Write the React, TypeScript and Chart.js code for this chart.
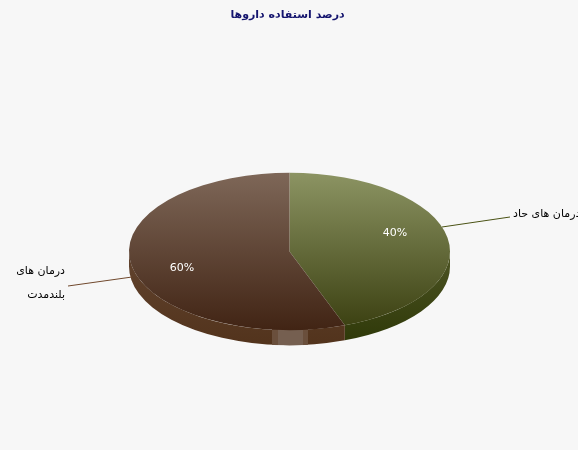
import React, { useEffect, useRef } from "react";
import { Chart, registerables } from "chart.js";

Chart.register(...registerables);

const titleText = "درصد استفاده داروها";
const categories = ["درمان های حاد", "درمان های بلندمدت"];
// label text printed on the chart
const percentLabels = ["40%", "60%"];
// slice sizes as drawn: the picture's 40% slice covers about 160 degrees
const sliceValues = [44.4, 55.6];

const SQUASH = 0.49;
const DEPTH = 15;

const squash = (ctx: CanvasRenderingContext2D, cy: number, offset = 0) => {
  ctx.translate(0, cy + offset);
  ctx.scale(1, SQUASH);
  ctx.translate(0, -cy);
};

// flatten the pie into an ellipse and draw the side wall under it
const pie3d = {
  id: "pie3d",
  beforeDatasetsDraw(chart: any) {
    const ctx = chart.ctx;
    const arcs = chart.getDatasetMeta(0).data;
    const { x, y, outerRadius } = arcs[0];

    const greenRim = ctx.createLinearGradient(0, 250, 0, 345);
    greenRim.addColorStop(0, "#4e5524");
    greenRim.addColorStop(1, "#2e3808");
    const brownRim = ctx.createLinearGradient(0, 250, 0, 345);
    brownRim.addColorStop(0, "#62442f");
    brownRim.addColorStop(1, "#52331c");
    const rims = [greenRim, brownRim];

    arcs.forEach((arc: any, i: number) => {
      // only the front half of the wall can be seen
      const from = Math.max(arc.startAngle, 0);
      const to = Math.min(arc.endAngle, Math.PI);
      ctx.beginPath();
      ctx.save();
      squash(ctx, y, DEPTH);
      ctx.arc(x, y, outerRadius, from, to);
      ctx.restore();
      ctx.save();
      squash(ctx, y);
      ctx.arc(x, y, outerRadius, to, from, true);
      ctx.restore();
      ctx.closePath();
      ctx.fillStyle = rims[i];
      ctx.fill();
    });

    // lighter strip on the front of the wall
    ctx.save();
    ctx.beginPath();
    ctx.save();
    squash(ctx, y, DEPTH);
    ctx.arc(x, y, outerRadius, 0, Math.PI * 2);
    ctx.restore();
    ctx.clip();
    const strip = ctx.createLinearGradient(272, 0, 308, 0);
    strip.addColorStop(0, "#6a4f3c");
    strip.addColorStop(0.16, "#6a4f3c");
    strip.addColorStop(0.17, "#755f50");
    strip.addColorStop(0.85, "#755f50");
    strip.addColorStop(0.86, "#6a4f3c");
    strip.addColorStop(1, "#6a4f3c");
    ctx.fillStyle = strip;
    ctx.fillRect(272, 320, 36, 30);
    ctx.restore();

    ctx.save();
    squash(ctx, y);
  },
  afterDatasetsDraw(chart: any) {
    const ctx = chart.ctx;
    ctx.restore();

    ctx.save();
    ctx.lineWidth = 1;
    ctx.strokeStyle = "#4a5214";
    ctx.beginPath();
    ctx.moveTo(442, 227);
    ctx.lineTo(510, 217);
    ctx.stroke();
    ctx.strokeStyle = "#70482c";
    ctx.beginPath();
    ctx.moveTo(132, 277);
    ctx.lineTo(68, 286);
    ctx.stroke();

    ctx.textBaseline = "middle";
    ctx.direction = "rtl";
    ctx.textAlign = "center";
    ctx.font = "bold 11px 'DejaVu Sans'";
    ctx.fillStyle = "#14146e";
    ctx.fillText(titleText, 287.5, 15);

    ctx.font = "11px 'DejaVu Sans'";
    ctx.fillStyle = "#000000";
    ctx.textAlign = "left";
    ctx.fillText(categories[0], 513, 214);
    ctx.textAlign = "right";
    const words = categories[1].split(" ");
    ctx.fillText(words.slice(0, 2).join(" "), 65, 271);
    ctx.fillText(words[2], 65, 295);

    ctx.direction = "ltr";
    ctx.textAlign = "center";
    ctx.fillStyle = "#ffffff";
    ctx.fillText(percentLabels[0], 395, 233);
    ctx.fillText(percentLabels[1], 182, 268);
    ctx.restore();
  },
};

const App = () => {
  const canvas = useRef<HTMLCanvasElement>(null);

  useEffect(() => {
    document.body.style.margin = "0";
    const ctx = canvas.current!.getContext("2d")!;
    const green = ctx.createLinearGradient(0, 91, 0, 412);
    green.addColorStop(0, "#8c9463");
    green.addColorStop(1, "#3a3f10");
    const brown = ctx.createLinearGradient(0, 91, 0, 412);
    brown.addColorStop(0, "#7e6758");
    brown.addColorStop(1, "#412414");

    const chart = new Chart(canvas.current!, {
      type: "pie",
      data: {
        labels: categories,
        datasets: [
          {
            data: sliceValues,
            backgroundColor: [green, brown],
            borderWidth: 0,
          },
        ],
      },
      options: {
        responsive: false,
        animation: false,
        devicePixelRatio: 1,
        layout: { padding: { left: 129, right: 128, top: 91, bottom: 38 } },
        plugins: {
          legend: { display: false },
          tooltip: { enabled: false },
        },
      },
      plugins: [pie3d],
    });

    return () => {
      chart.destroy();
    };
  }, []);

  return (
    <div style={{ width: 578, height: 450, background: "#f7f7f7", overflow: "hidden" }}>
      <canvas ref={canvas} width={578} height={450} style={{ display: "block" }}></canvas>
    </div>
  );
};

export default App;
